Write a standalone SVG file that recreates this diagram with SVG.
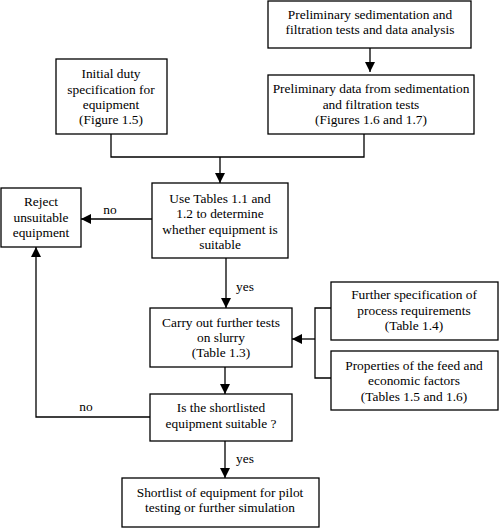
<svg xmlns="http://www.w3.org/2000/svg" width="499" height="528" viewBox="0 0 499 528">
<defs>
<marker id="ah" viewBox="0 0 10 10" refX="10" refY="5" markerWidth="10" markerHeight="10" markerUnits="userSpaceOnUse" orient="auto">
<path d="M0,0 L10,5 L0,10 z" fill="#000"/>
</marker>
<style>
rect{fill:#fff;stroke:#000;stroke-width:1.3}
text{font-size:13.4px;fill:#000;text-anchor:middle}
.c{fill:none;stroke:#000;stroke-width:1.3}
</style>
</defs>
<rect x="0" y="0" width="499" height="528" style="fill:#fff;stroke:none"/>
<g font-family="'Liberation Serif', 'Times New Roman', 'DejaVu Serif', serif">
<g id="connectors">
<path class="c" d="M370,48 V72" marker-end="url(#ah)"/>
<path class="c" d="M364,134 V157 H111 V134"/>
<path class="c" d="M220,157 V183" marker-end="url(#ah)"/>
<path class="c" d="M152,219 H81" marker-end="url(#ah)"/>
<path class="c" d="M226,258 V308" marker-end="url(#ah)"/>
<path class="c" d="M225,367 V394" marker-end="url(#ah)"/>
<path class="c" d="M150,417 H36 V247" marker-end="url(#ah)"/>
<path class="c" d="M225,441 V478" marker-end="url(#ah)"/>
<path class="c" d="M331,308 H315 V378 H331"/>
<path class="c" d="M315,339 H292" marker-end="url(#ah)"/>
<text x="110" y="214">no</text>
<text x="245" y="291">yes</text>
<text x="86" y="411">no</text>
<text x="245" y="463">yes</text>
</g>
<g id="prelim-tests">
<rect x="268" y="1" width="203" height="47"/>
<text x="370" y="19">Preliminary sedimentation and</text>
<text x="370" y="34">filtration tests and data analysis</text>
</g>
<g id="prelim-data">
<rect x="268" y="75" width="206" height="59"/>
<text x="371" y="93">Preliminary data from sedimentation</text>
<text x="371" y="109">and filtration tests</text>
<text x="371" y="124">(Figures 1.6 and 1.7)</text>
</g>
<g id="initial-duty">
<rect x="56" y="59" width="111" height="75"/>
<text x="111" y="78">Initial duty</text>
<text x="111" y="94">specification for</text>
<text x="111" y="109">equipment</text>
<text x="111" y="124">(Figure 1.5)</text>
</g>
<g id="use-tables">
<rect x="152" y="183" width="136" height="75"/>
<text x="220" y="203">Use Tables 1.1 and</text>
<text x="220" y="218">1.2 to determine</text>
<text x="220" y="234">whether equipment is</text>
<text x="220" y="249">suitable</text>
</g>
<g id="reject">
<rect x="1" y="188" width="80" height="59"/>
<text x="41" y="206">Reject</text>
<text x="41" y="222">unsuitable</text>
<text x="41" y="237">equipment</text>
</g>
<g id="carry-out">
<rect x="150" y="308" width="142" height="59"/>
<text x="221" y="327">Carry out further tests</text>
<text x="221" y="342">on slurry</text>
<text x="221" y="357">(Table 1.3)</text>
</g>
<g id="further-spec">
<rect x="331" y="282" width="167" height="58"/>
<text x="414" y="299">Further specification of</text>
<text x="414" y="315">process requirements</text>
<text x="414" y="330">(Table 1.4)</text>
</g>
<g id="properties">
<rect x="331" y="351" width="167" height="59"/>
<text x="414" y="370">Properties of the feed and</text>
<text x="414" y="385">economic factors</text>
<text x="414" y="401">(Tables 1.5 and 1.6)</text>
</g>
<g id="is-suitable">
<rect x="150" y="394" width="142" height="47"/>
<text x="221" y="412">Is the shortlisted</text>
<text x="221" y="428">equipment suitable ?</text>
</g>
<g id="shortlist">
<rect x="122" y="478" width="197" height="49"/>
<text x="220" y="497">Shortlist of equipment for pilot</text>
<text x="220" y="512">testing or further simulation</text>
</g>
</g>
</svg>
